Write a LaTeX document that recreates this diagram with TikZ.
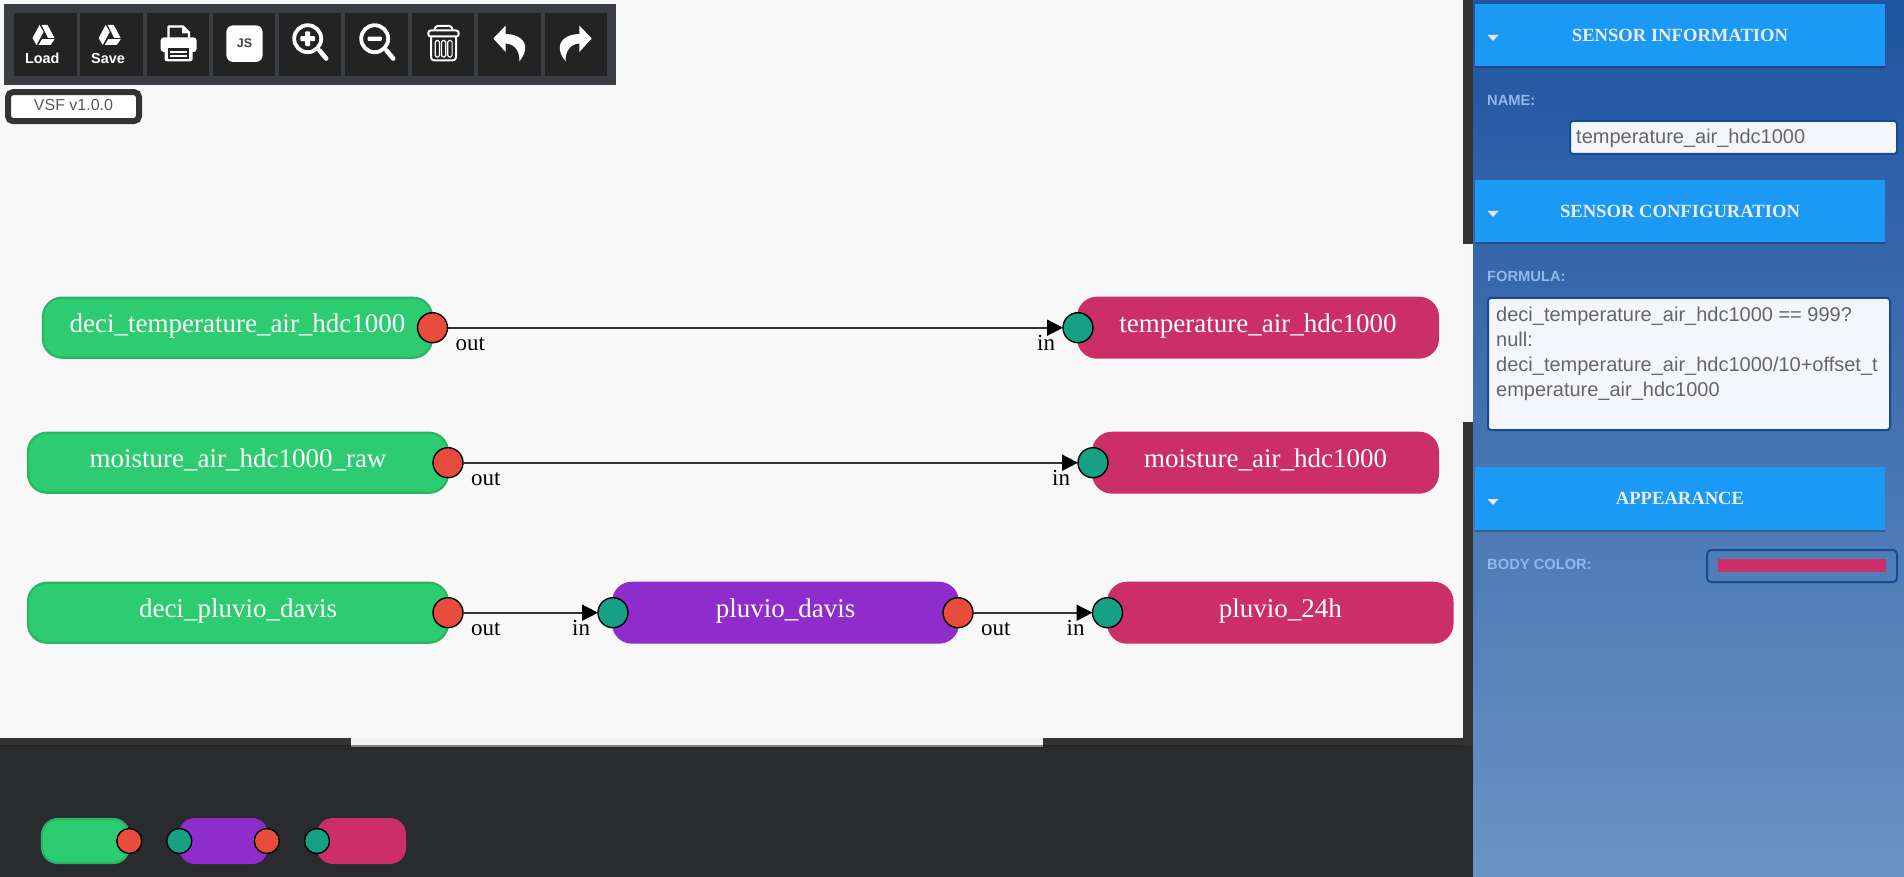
\documentclass[tikz,border=0pt]{standalone}
\usepackage{fontspec}
\setmainfont{Liberation Serif}
\setsansfont{Liberation Sans}
\usetikzlibrary{arrows.meta,calc}
\definecolor{canvasbg}{HTML}{F8F8F8}
\definecolor{track}{HTML}{333333}
\definecolor{bottombg}{HTML}{2A2B2F}
\definecolor{toolbg}{HTML}{3A3D42}
\definecolor{btnbg}{HTML}{232324}
\definecolor{cgreen}{HTML}{2ECC71}
\definecolor{cgreenb}{HTML}{2AB566}
\definecolor{cpurple}{HTML}{8E2DCB}
\definecolor{cpink}{HTML}{CC2E68}
\definecolor{cred}{HTML}{E74C3C}
\definecolor{cteal}{HTML}{16A085}
\definecolor{headblue}{HTML}{1A9AF5}
\definecolor{fieldb}{HTML}{134C90}
\definecolor{fieldbg}{HTML}{F4F6FB}
\definecolor{lab}{HTML}{8FB8EC}
\definecolor{fieldtxt}{HTML}{666666}
\tikzset{
  sensorbox/.style={rectangle,rounded corners=20pt,inner sep=0pt,outer sep=0pt,minimum height=62pt,text=white,
    font=\fontsize{27}{30}\selectfont,text height=15pt,text depth=5pt},
  srcbox/.style={sensorbox,fill=cgreen,draw=cgreenb,line width=2.2pt,minimum height=60pt,rounded corners=19pt},
  midbox/.style={sensorbox,fill=cpurple},
  dstbox/.style={sensorbox,fill=cpink},
  palbox/.style={rectangle,rounded corners=16pt,inner sep=0pt,outer sep=0pt,minimum width=89pt,minimum height=46pt},
  port/.style={circle,draw=black,line width=1.4pt,inner sep=0pt,outer sep=0pt,minimum size=30pt},
  outport/.style={port,fill=cred},
  inport/.style={port,fill=cteal},
  palout/.style={outport,minimum size=25pt},
  palin/.style={inport,minimum size=25pt},
  conn/.style={draw=track,line width=1.8pt,-{Triangle[length=16pt,width=16pt,color=black]},shorten <=0pt,shorten >=0pt},
  portlab/.style={anchor=base west,inner sep=0pt,font=\fontsize{23}{26}\selectfont,text=black},
  head/.style={fill=headblue},
  headtxt/.style={anchor=base,inner sep=0pt,font=\fontsize{18.6}{20}\selectfont\bfseries,text=black!8},
  fieldlab/.style={anchor=base west,inner sep=0pt,font=\sffamily\bfseries\fontsize{14.7}{16}\selectfont,text=lab},
  fieldtext/.style={anchor=base west,inner sep=0pt,font=\sffamily\fontsize{20}{25}\selectfont,text=fieldtxt},
  btn/.style={fill=btnbg},
  btntxt/.style={anchor=base,inner sep=0pt,font=\sffamily\bfseries\fontsize{14.4}{16}\selectfont,text=white},
  icon/.style={draw=white,line width=2pt,line join=round},
  lens/.style={draw=white,line width=3.8pt},
  lenshandle/.style={draw=white,line width=4.6pt,line cap=round},
}
\newcommand{\drivelogo}[2]{\begin{scope}[shift={(#1,#2)}]
  \fill[white] (-4,0) -- (0,7) -- (-7,20) -- (-11,13) -- cycle;
  \fill[white] (-2,0) -- (4,0) -- (11,13) -- (4.5,13) -- cycle;
  \fill[white] (-5,20) -- (-1.5,14.2) -- (11,14.2) -- (7,20) -- cycle;
\end{scope}}
\begin{document}
\begin{tikzpicture}[x=1pt,y=-1pt]
\useasboundingbox (0,0) rectangle (1904,877);
% canvas and frames
\fill[canvasbg] (0,0) rectangle (1473,746);
\fill[bottombg] (0,746) rectangle (1473,877);
\fill[track] (1463,0) rectangle (1473,746);
\fill[black!3] (1463,244) rectangle (1473,422);
\fill[track] (0,738) rectangle (1463,746);
\fill[black!85] (0,745) rectangle (1463,747);
\fill[black!5] (351,738) rectangle (1043,745);
\fill[black!50] (351,745) rectangle (1043,747);
% side panel
\fill[top color={rgb,255:red,31;green,84;blue,160},bottom color={rgb,255:red,107;green,147;blue,196}] (1473,0) rectangle (1904,877);
% toolbar
\fill[toolbg] (4,4) rectangle (615.6,85);
\foreach \a/\b in {14/77,80.3/143,147/209,213/275,279/341.3,345.3/408,412/474,478/541,545/607}
  \fill[btn] (\a,13) rectangle (\b,76.3);
\drivelogo{43.5}{25}
\drivelogo{109.7}{25}
\node[btntxt] (loadtxt) at (42.3,63.3) {Load};
\node[btntxt] (savetxt) at (108,63.3) {Save};
% printer
\draw[icon,line width=2.2pt] (168.5,38) -- (168.5,26.5) -- (183,26.5) -- (189,32.5) -- (189,38);
\fill[white] (182,25.3) -- (190.2,33.5) -- (182,33.5) -- cycle;
\fill[white,rounded corners=3pt] (160.7,37.5) rectangle (196.7,52);
\fill[white,rounded corners=2pt] (164.7,47.5) rectangle (192.5,61.3);
\fill[btnbg] (168,48) rectangle (189.2,58.6);
\fill[white] (170,50.8) rectangle (187,53);
\fill[white] (170,55.4) rectangle (187,57.4);
% js
\fill[white,rounded corners=7pt] (226.3,25.3) rectangle (262.7,62);
\node[anchor=base,inner sep=0pt,font=\sffamily\bfseries\fontsize{12.5}{14}\selectfont,text=black!75] (jstxt) at (244.5,48) {JS};
% zoom in
\draw[lens] (307.7,38.7) circle (13.5);
\draw[lenshandle] (319.5,50.5) -- (326.2,58.5);
\fill[white,rounded corners=1pt] (300.3,36.2) rectangle (315.1,41.2);
\fill[white,rounded corners=1pt] (305.2,31.3) rectangle (310.2,46.1);
% zoom out
\draw[lens] (374.7,38.7) circle (13.5);
\draw[lenshandle] (386.5,50.5) -- (393.2,58.5);
\fill[white,rounded corners=1pt] (367.5,36.6) rectangle (381.9,40.8);
% trash
\draw[icon,rounded corners=2pt] (434.5,30.5) -- (435.5,25.8) -- (451.5,25.8) -- (452.5,30.5);
\draw[icon,rounded corners=2.5pt] (428.3,30.5) rectangle (458.7,36.5);
\draw[icon,rounded corners=3pt] (431,36.5) -- (431,60.3) -- (456,60.3) -- (456,36.5);
\draw[icon,line width=1.2pt,rounded corners=1.5pt] (435.2,40.5) rectangle (439.5,57);
\draw[icon,line width=1.2pt,rounded corners=1.5pt] (441.5,40.5) rectangle (445.8,57);
\draw[icon,line width=1.2pt,rounded corners=1.5pt] (447.8,40.5) rectangle (452.1,57);
% undo / redo
\fill[white] (493.3,38.5) -- (505.7,25.5) -- (505.7,34) .. controls (518,34) and (527,41) .. (525,50) .. controls (524.5,55) and (521,59) .. (519.3,61.5) .. controls (520,53) and (516,44) .. (505.7,43.5) -- (505.7,52) -- cycle;
\fill[white] (591.7,38.5) -- (579.3,25.5) -- (579.3,34) .. controls (567,34) and (558,41) .. (560,50) .. controls (560.5,55) and (564,59) .. (565.7,61.5) .. controls (565,53) and (569,44) .. (579.3,43.5) -- (579.3,52) -- cycle;
% version
\node[rectangle,draw=track,line width=6pt,rounded corners=5pt,fill=white,minimum width=131pt,minimum height=29pt,inner sep=0pt,outer sep=0pt,font=\sffamily\fontsize{16}{18}\selectfont,text=black!65,text height=12pt,text depth=3.2pt] (version) at (73.5,106.6) {VSF v1.0.0};
% sensor boxes
\node[srcbox,minimum width=389pt] (s1) at (237.5,327.7) {deci\_temperature\_air\_hdc1000};
\node[dstbox,minimum width=362pt] (d1) at (1258,327.7) {temperature\_air\_hdc1000};
\node[srcbox,minimum width=420pt] (s2) at (238,462.7) {moisture\_air\_hdc1000\_raw};
\node[dstbox,minimum width=347pt] (d2) at (1265.5,462.7) {moisture\_air\_hdc1000};
\node[srcbox,minimum width=420pt] (s3) at (238,612.7) {deci\_pluvio\_davis};
\node[midbox,minimum width=347pt] (m3) at (785.5,612.7) {pluvio\_davis};
\node[dstbox,minimum width=346.5pt] (d3) at (1280.3,612.7) {pluvio\_24h};
% ports
\node[outport] (s1o) at (432.5,327.7) {};
\node[inport] (d1i) at (1078,327.7) {};
\node[outport] (s2o) at (448,462.7) {};
\node[inport] (d2i) at (1093,462.7) {};
\node[outport] (s3o) at (448,612.7) {};
\node[inport] (m3i) at (613,612.7) {};
\node[outport] (m3o) at (958,612.7) {};
\node[inport] (d3i) at (1107.5,612.7) {};
% connectors
\draw[conn] (s1o) -- (d1i);
\draw[conn] (s2o) -- (d2i);
\draw[conn] (s3o) -- (m3i);
\draw[conn] (m3o) -- (d3i);
% port labels
\node[portlab] (l1) at ($(s1o)+(23,23)$) {out};
\node[portlab] (l2) at ($(d1i)+(-41,23)$) {in};
\node[portlab] (l3) at ($(s2o)+(23,23)$) {out};
\node[portlab] (l4) at ($(d2i)+(-41,23)$) {in};
\node[portlab] (l5) at ($(s3o)+(23,23)$) {out};
\node[portlab] (l6) at ($(m3i)+(-41,23)$) {in};
\node[portlab] (l7) at ($(m3o)+(23,23)$) {out};
\node[portlab] (l8) at ($(d3i)+(-41,23)$) {in};
% palette
\node[palbox,fill=cgreen,draw=cgreenb,line width=2.2pt,minimum width=87pt,minimum height=44pt] (p1) at (85.5,841) {};
\node[palbox,fill=cpurple] (p2) at (223.5,841) {};
\node[palbox,fill=cpink] (p3) at (361.5,841) {};
\node[palout] (p1o) at (129.3,841) {};
\node[palin] (p2i) at (179.3,841) {};
\node[palout] (p2o) at (266.8,841) {};
\node[palin] (p3i) at (317,841) {};
% panel headers
\fill[black,opacity=.22] (1475,66) rectangle (1885,68);
\fill[black,opacity=.22] (1475,242) rectangle (1885,244);
\fill[black,opacity=.22] (1475,530) rectangle (1885,532);
\fill[head] (1475,4) rectangle (1885,66);
\fill[head] (1475,180) rectangle (1885,242);
\fill[head] (1475,467) rectangle (1885,530);
\node[headtxt] (h1) at (1680,42) {SENSOR INFORMATION};
\node[headtxt] (h2) at (1680,218) {SENSOR CONFIGURATION};
\node[headtxt] (h3) at (1680,504) {APPEARANCE};
\fill[black!10] (1487.5,35) -- (1498.5,35) -- (1493,41) -- cycle;
\fill[black!10] (1487.5,211) -- (1498.5,211) -- (1493,217) -- cycle;
\fill[black!10] (1487.5,499) -- (1498.5,499) -- (1493,505) -- cycle;
% fields
\node[fieldlab] (f1) at (1487,105.7) {NAME:};
\node[fieldlab] (f2) at (1487,281.7) {FORMULA:};
\node[fieldlab] (f3) at (1487,569.7) {BODY COLOR:};
\draw[fill=fieldbg,draw=fieldb,line width=2pt,rounded corners=3pt] (1570,121) rectangle (1897,154);
\node[fieldtext] (v1) at (1576,144) {temperature\_air\_hdc1000};
\draw[fill=fieldbg,draw=fieldb,line width=2pt,rounded corners=3pt] (1488,298) rectangle (1890,430);
\node[fieldtext] (v2a) at (1496,322) {deci\_temperature\_air\_hdc1000 == 999?};
\node[fieldtext] (v2b) at (1496,347) {null:};
\node[fieldtext] (v2c) at (1496,371.5) {deci\_temperature\_air\_hdc1000/10+offset\_t};
\node[fieldtext] (v2d) at (1496,396.5) {emperature\_air\_hdc1000};
\draw[draw=fieldb,line width=2pt,rounded corners=4pt] (1707,550) rectangle (1897,582);
\fill[cpink] (1718,559) rectangle (1886,572);
\end{tikzpicture}
\end{document}
